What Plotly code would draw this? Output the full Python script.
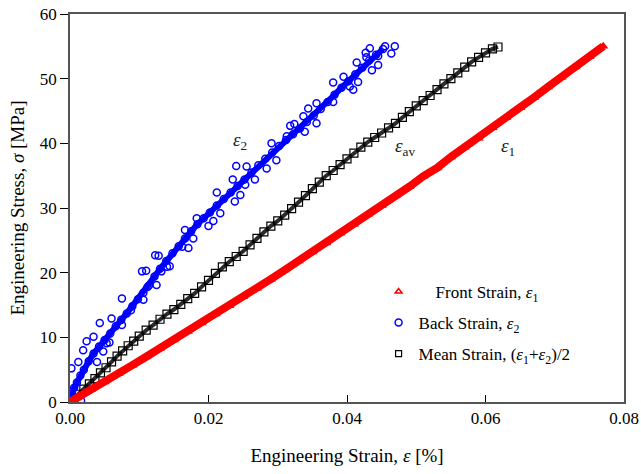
import plotly.graph_objects as go

# Front strain (epsilon_1) - red band
front_x = [0.0000, 0.0010, 0.0030, 0.0050, 0.0070, 0.0090, 0.0110, 0.0130, 0.0150, 0.0170,
           0.0190, 0.0210, 0.0230, 0.0250, 0.0270, 0.0290, 0.0310, 0.0330, 0.0350, 0.0370,
           0.0390, 0.0410, 0.0430, 0.0450, 0.0470, 0.0490, 0.0510, 0.0530, 0.0550, 0.0570,
           0.0590, 0.0610, 0.0630, 0.0650, 0.0670, 0.0690, 0.0710, 0.0730, 0.0750, 0.0770]
front_y = [0.0, 0.6, 1.9, 3.1, 4.4, 5.7, 7.0, 8.3, 9.6, 10.9,
           12.2, 13.6, 14.9, 16.3, 17.6, 19.0, 20.4, 21.8, 23.2, 24.6,
           26.1, 27.5, 29.0, 30.4, 31.9, 33.3, 34.9, 36.2, 37.9, 39.4,
           40.8, 42.4, 44.0, 45.5, 47.1, 48.7, 50.2, 51.8, 53.4, 55.0]

# Back strain (epsilon_2) - blue band
back_x = [0.0000, 0.0003, 0.0006, 0.0010, 0.0015, 0.0020, 0.0027, 0.0034, 0.0042, 0.0050,
          0.0058, 0.0066, 0.0074, 0.0082, 0.0090, 0.0098, 0.0106, 0.0114, 0.0122, 0.0130,
          0.0139, 0.0148, 0.0157, 0.0166, 0.0175, 0.0184, 0.0193, 0.0202, 0.0212, 0.0222,
          0.0232, 0.0242, 0.0252, 0.0262, 0.0272, 0.0282, 0.0292, 0.0302, 0.0312, 0.0322,
          0.0332, 0.0342, 0.0352, 0.0362, 0.0372, 0.0382, 0.0392, 0.0402, 0.0412, 0.0422,
          0.0432, 0.0442, 0.0452]
back_y = [0.0, 1.2, 2.2, 3.0, 4.1, 5.0, 6.3, 7.5, 8.6, 9.6,
          10.6, 11.7, 12.7, 13.7, 14.8, 15.9, 16.9, 18.0, 19.4, 20.6,
          21.8, 23.0, 24.1, 25.3, 26.4, 27.5, 28.4, 29.3, 30.4, 31.4,
          32.4, 33.4, 34.4, 35.5, 36.6, 37.6, 38.6, 39.6, 40.5, 41.4,
          42.3, 43.3, 44.3, 45.3, 46.4, 47.5, 48.6, 49.6, 50.7, 51.7,
          52.8, 53.7, 54.6]

# Back strain scattered readings
back_out_x = [0.0002, 0.0012, 0.0019, 0.0039, 0.0048, 0.0024, 0.0034, 0.0057, 0.0043, 0.0075,
              0.0060, 0.0088, 0.0106, 0.0075, 0.0016, 0.0125, 0.0053, 0.0112, 0.0123, 0.0140,
              0.0162, 0.0104, 0.0110, 0.0132, 0.0128, 0.0144, 0.0171, 0.0166, 0.0178, 0.0183,
              0.0200, 0.0207, 0.0217, 0.0212, 0.0238, 0.0246, 0.0253, 0.0235, 0.0240, 0.0255,
              0.0267, 0.0284, 0.0298, 0.0291, 0.0313, 0.0318, 0.0324, 0.0339, 0.0337, 0.0356,
              0.0356, 0.0344, 0.0380, 0.0380, 0.0395, 0.0409, 0.0416, 0.0404, 0.0414, 0.0428,
              0.0433, 0.0436, 0.0445, 0.0445, 0.0464, 0.0469, 0.0455, 0.0427]
back_out_y = [5.2, 6.2, 8.0, 6.2, 7.8, 9.4, 10.1, 9.2, 12.2, 11.9,
              12.9, 14.2, 15.8, 16.0, 0.2, 18.1, 9.1, 17.8, 22.7, 20.9,
              24.0, 20.2, 20.3, 20.2, 22.6, 21.0, 23.8, 26.6, 25.3, 28.4,
              27.2, 28.0, 29.2, 32.4, 31.0, 32.0, 33.6, 34.4, 36.5, 36.4,
              34.4, 36.1, 37.4, 40.0, 41.1, 42.7, 43.0, 41.8, 44.2, 46.2,
              43.1, 45.4, 46.4, 49.4, 50.3, 48.3, 49.5, 48.8, 52.5, 53.3,
              54.7, 51.3, 52.1, 53.5, 53.9, 55.0, 55.0, 54.0]

# Mean strain (epsilon_1 + epsilon_2)/2 - black band
mean_x = [0.0000, 0.0005, 0.0012, 0.0020, 0.0028, 0.0036, 0.0044, 0.0052, 0.0060, 0.0068,
          0.0076, 0.0084, 0.0092, 0.0100, 0.0110, 0.0120, 0.0130, 0.0140, 0.0150, 0.0160,
          0.0170, 0.0180, 0.0190, 0.0200, 0.0210, 0.0220, 0.0230, 0.0240, 0.0250, 0.0260,
          0.0270, 0.0280, 0.0290, 0.0300, 0.0310, 0.0320, 0.0330, 0.0340, 0.0350, 0.0360,
          0.0370, 0.0380, 0.0390, 0.0400, 0.0410, 0.0420, 0.0430, 0.0440, 0.0450, 0.0460,
          0.0470, 0.0480, 0.0490, 0.0500, 0.0510, 0.0520, 0.0530, 0.0540, 0.0550, 0.0560,
          0.0570, 0.0580, 0.0590, 0.0600, 0.0610, 0.0618]
mean_y = [0.0, 0.4, 1.2, 2.0, 2.8, 3.6, 4.5, 5.3, 6.2, 7.1,
          7.9, 8.7, 9.4, 10.2, 11.1, 11.9, 12.8, 13.6, 14.3, 15.1,
          16.0, 16.8, 17.8, 18.8, 19.9, 20.9, 21.7, 22.5, 23.3, 24.3,
          25.3, 26.3, 27.2, 28.0, 28.9, 29.9, 30.9, 31.9, 33.0, 34.0,
          35.0, 35.8, 36.7, 37.6, 38.5, 39.4, 40.2, 40.9, 41.6, 42.4,
          43.1, 44.0, 44.9, 45.8, 46.6, 47.4, 48.3, 49.2, 50.0, 50.9,
          51.8, 52.6, 53.3, 54.0, 54.6, 54.9]

legend_names = ["\u00a0\u00a0\u00a0\u00a0Front Strain, <i>ε</i><sub>1</sub>",
                "Back Strain, <i>ε</i><sub>2</sub>",
                "Mean Strain, (<i>ε</i><sub>1</sub>+<i>ε</i><sub>2</sub>)/2"]

FONT = "Liberation Serif, Times New Roman, serif"

fig = go.Figure()

# mean band
fig.add_trace(go.Scatter(x=mean_x, y=mean_y, mode="lines+markers", showlegend=False,
                         line=dict(color="#2a2a2a", width=4),
                         marker=dict(symbol="square-open", size=8, color="black",
                                     line=dict(width=1.2))))
# back band
fig.add_trace(go.Scatter(x=back_x, y=back_y, mode="lines+markers", showlegend=False,
                         line=dict(color="#0000ff", width=6),
                         marker=dict(symbol="circle-open", size=7, color="#0000ff",
                                     line=dict(width=1.5))))
fig.add_trace(go.Scatter(x=back_out_x, y=back_out_y, mode="markers", showlegend=False,
                         marker=dict(symbol="circle-open", size=7, color="#0000ff",
                                     line=dict(width=1.5))))
# front band
fig.add_trace(go.Scatter(x=front_x, y=front_y, mode="lines+markers", showlegend=False,
                         line=dict(color="#ff0000", width=8),
                         marker=dict(symbol="triangle-up", size=9, color="#ff0000")))

# legend entries
fig.add_trace(go.Scatter(x=[None], y=[None], mode="markers", name=legend_names[0],
                         legendgroup="a",
                         marker=dict(symbol="triangle-up-open", size=6, color="#ff0000",
                                     line=dict(width=1.5))))
fig.add_trace(go.Scatter(x=[None], y=[None], mode="markers", name=legend_names[1],
                         legendgroup="b",
                         marker=dict(symbol="circle-open", size=7, color="#0000ff",
                                     line=dict(width=1.5))))
fig.add_trace(go.Scatter(x=[None], y=[None], mode="markers", name=legend_names[2],
                         legendgroup="c",
                         marker=dict(symbol="square-open", size=6, color="black",
                                     line=dict(width=1.2))))

ann = dict(showarrow=False, font=dict(family=FONT, size=19, color="#222"))
fig.add_annotation(x=0.0245, y=40.3, text="<i>ε</i><sub>2</sub>", **ann)
fig.add_annotation(x=0.0484, y=39.5, text="<i>ε</i><sub>av</sub>", **ann)
fig.add_annotation(x=0.0633, y=39.5, text="<i>ε</i><sub>1</sub>", **ann)

fig.update_layout(
    width=641, height=474,
    margin=dict(l=70, r=17, t=14, b=72),
    paper_bgcolor="white", plot_bgcolor="white",
    font=dict(family=FONT, size=17, color="black"),
    legend=dict(x=0.557, y=0.33, xanchor="left", yanchor="top",
                bgcolor="rgba(0,0,0,0)", font=dict(family=FONT, size=17),
                tracegroupgap=6, itemwidth=30),
)
fig.update_xaxes(range=[0, 0.08], tickvals=[0, 0.02, 0.04, 0.06, 0.08],
                 tickformat=".2f", ticks="inside", ticklen=7, tickcolor="black",
                 tickfont=dict(size=17), automargin=False, ticklabeloverflow="allow",
                 showline=True, linecolor="#555", linewidth=1.5, mirror=True,
                 showgrid=False, zeroline=False,
                 title=dict(text="Engineering Strain, <i>ε</i> [%]", font=dict(size=19),
                            standoff=22))
fig.update_yaxes(range=[0, 60], tickvals=[0, 10, 20, 30, 40, 50, 60],
                 ticks="outside", ticklen=8, tickcolor="black",
                 tickfont=dict(size=17), automargin=False, ticklabeloverflow="allow",
                 showline=True, linecolor="#555", linewidth=1.5, mirror=True,
                 showgrid=False, zeroline=False,
                 title=dict(text="Engineering Stress, <i>σ</i> [MPa]", font=dict(size=19),
                            standoff=10))

# remove the default 8px body margin so the 641x474 figure fills the window exactly
fig.write_html("out.html", config={"displayModeBar": False},
               post_script="document.body.style.margin='0px';document.body.style.overflow='hidden';")
